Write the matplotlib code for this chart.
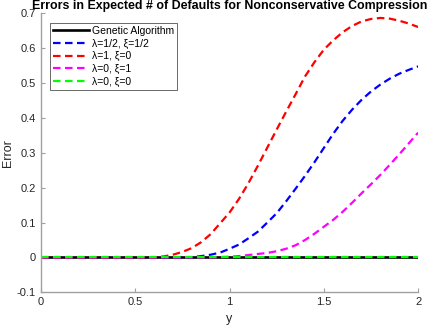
import matplotlib
matplotlib.use("Agg")
import matplotlib.pyplot as plt
import numpy as np

plt.rcParams['font.family'] = ['Liberation Sans', 'DejaVu Sans']
plt.rcParams['axes.unicode_minus'] = False

x = [0.00, 0.05, 0.10, 0.15, 0.20, 0.25, 0.30, 0.35, 0.40, 0.45,
     0.50, 0.55, 0.60, 0.65, 0.70, 0.75, 0.80, 0.85, 0.90, 0.95,
     1.00, 1.05, 1.10, 1.15, 1.20, 1.25, 1.30, 1.35, 1.40, 1.45,
     1.50, 1.55, 1.60, 1.65, 1.70, 1.75, 1.80, 1.85, 1.90, 1.95, 2.00]
genetic = [0.0] * 41
half_half = [0, 0, 0, 0, 0, 0, 0, 0, 0, 0,
             0, 0, 0, 0, 0, 0.0, 0.001, 0.004, 0.008, 0.014,
             0.025, 0.037, 0.055, 0.074, 0.100, 0.127, 0.161, 0.197, 0.234, 0.273,
             0.314, 0.355, 0.392, 0.424, 0.452, 0.476, 0.496, 0.513, 0.527, 0.538, 0.548]
one_zero = [0, 0, 0, 0, 0, 0, 0, 0, 0, 0,
            0, 0, 0.0, 0.003, 0.008, 0.016, 0.027, 0.044, 0.067, 0.098,
            0.129, 0.168, 0.213, 0.263, 0.315, 0.367, 0.418, 0.468, 0.519, 0.560,
            0.596, 0.623, 0.646, 0.664, 0.677, 0.684, 0.687, 0.685, 0.679, 0.671, 0.661]
zero_one = [0, 0, 0, 0, 0, 0, 0, 0, 0, 0,
            0, 0, 0, 0, 0, 0, 0, 0, 0, 0.001,
            0.002, 0.004, 0.007, 0.010, 0.013, 0.018, 0.025, 0.035, 0.050, 0.068,
            0.088, 0.108, 0.131, 0.157, 0.184, 0.210, 0.237, 0.266, 0.296, 0.327, 0.358]
zero_zero = [0.0] * 41

labels = ['Genetic Algorithm', 'λ=1/2, ξ=1/2', 'λ=1, ξ=0', 'λ=0, ξ=1', 'λ=0, ξ=0']
xticks = [0, 0.5, 1, 1.5, 2]
xticklabels = ['0', '0.5', '1', '1.5', '2']
yticks = [-0.1, 0, 0.1, 0.2, 0.3, 0.4, 0.5, 0.6, 0.7]
yticklabels = ['-0.1', '0', '0.1', '0.2', '0.3', '0.4', '0.5', '0.6', '0.7']

fig = plt.figure(figsize=(4.36, 3.27), dpi=100)
ax = fig.add_axes([0.094, 0.106, 0.865, 0.853])

lw = 1.6
dash = (0, (3.4, 2.0))
ax.plot(x, genetic, color='black', lw=lw + 0.3, label=labels[0])
ax.plot(x, half_half, color='blue', lw=lw, ls=dash, label=labels[1])
ax.plot(x, one_zero, color='red', lw=lw, ls=dash, label=labels[2])
ax.plot(x, zero_one, color='magenta', lw=lw, ls=dash, label=labels[3])
ax.plot(x, zero_zero, color='#00ff00', lw=lw, ls=dash, label=labels[4])

ax.set_xlim(0, 2)
ax.set_ylim(-0.1, 0.7)
ax.set_xticks(xticks)
ax.set_xticklabels(xticklabels)
ax.set_yticks(yticks)
ax.set_yticklabels(yticklabels)
for s in ['top', 'right']:
    ax.spines[s].set_visible(False)
for s in ['left', 'bottom']:
    ax.spines[s].set_color('#a0a0a0')
    ax.spines[s].set_linewidth(1.0)
ax.tick_params(direction='in', length=3, colors='#a0a0a0', labelcolor='#262626', labelsize=8)

ax.set_xlabel('y', fontsize=9, color='#262626', labelpad=4)
ax.set_ylabel('Error', fontsize=9, color='#262626', labelpad=2)
ax.set_title('Errors in Expected # of Defaults for Nonconservative Compression',
             fontsize=8.9, fontweight='bold', pad=3.5)

leg = ax.legend(loc='upper left', bbox_to_anchor=(0.024, 0.966), fontsize=7.5,
                handlelength=3.4, borderaxespad=0, frameon=True, fancybox=False,
                labelspacing=0.25, borderpad=0.3, handletextpad=0.3)
leg.get_frame().set_edgecolor('#262626')
leg.get_frame().set_linewidth(0.6)

fig.savefig('out.png', dpi=100)
